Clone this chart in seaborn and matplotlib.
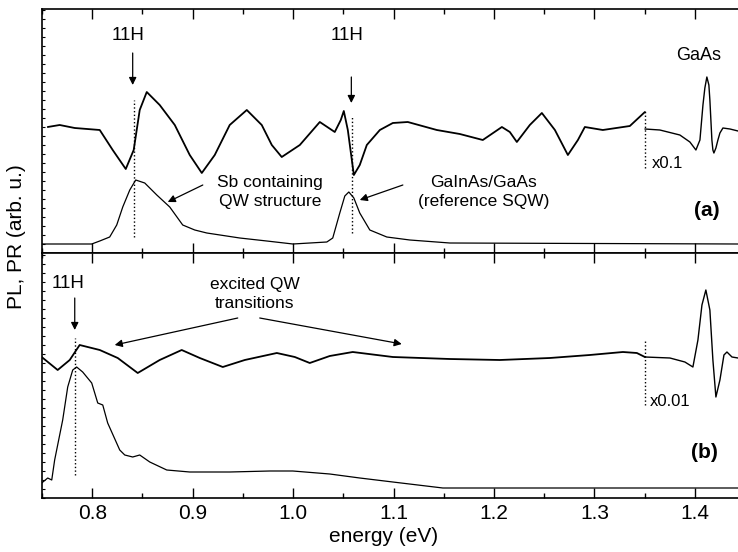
import numpy as np
import pandas as pd
import matplotlib
matplotlib.use("Agg")
import matplotlib.pyplot as plt
from matplotlib.ticker import MultipleLocator, NullFormatter
import seaborn as sns

sns.set_style("ticks")
plt.rcParams['font.family'] = ['Liberation Sans', 'DejaVu Sans']
for k in ['text.color', 'axes.labelcolor', 'xtick.color', 'ytick.color', 'axes.edgecolor']:
    plt.rcParams[k] = 'black'

# ---- panel (a): PR of Sb containing QW sample
pr_a_energy = [0.7557, 0.7676, 0.7826, 0.8075, 0.8204, 0.8334, 0.8413, 0.8473, 0.8543,
               0.8672, 0.8822, 0.8971, 0.9091, 0.9220, 0.9369, 0.9539, 0.9688, 0.9788,
               0.9887, 1.0067, 1.0266, 1.0415, 1.0475, 1.0505, 1.0545, 1.0605, 1.0664,
               1.0734, 1.0864, 1.0993, 1.1142, 1.1431, 1.1660, 1.1889, 1.2079, 1.2158,
               1.2228, 1.2357, 1.2477, 1.2607, 1.2736, 1.2836, 1.2905, 1.3084, 1.3353,
               1.3503]
pr_a_signal = [126, 128, 125, 123, 103, 84, 103, 143, 161,
               148, 128, 98, 80, 98, 128, 143, 128, 108,
               96, 108, 131, 121, 133, 142, 123, 78, 88,
               108, 123, 130, 131, 123, 119, 113, 126, 121,
               111, 128, 140, 123, 98, 113, 126, 123, 127,
               141]

# GaAs band-gap feature, scaled x0.1
gaas_a_energy = [1.3503, 1.3652, 1.3851, 1.3951, 1.4011, 1.4051, 1.4081, 1.4100, 1.4120,
                 1.4140, 1.4150, 1.4170, 1.4180, 1.4190, 1.4210, 1.4230, 1.4250, 1.4280,
                 1.4350, 1.4430]
gaas_a_signal = [124, 123, 118, 111, 103, 113, 148, 165, 176,
                 168, 153, 113, 103, 100, 105, 113, 120, 125,
                 124, 122]

# PL spectrum (a)
pl_a_energy = [0.7497, 0.7995, 0.8075, 0.8174, 0.8244, 0.8304, 0.8374, 0.8433, 0.8523,
               0.8643, 0.8772, 0.8901, 0.9021, 0.9141, 0.9469, 0.9738, 0.9998, 1.0336,
               1.0395, 1.0465, 1.0515, 1.0555, 1.0605, 1.0664, 1.0764, 1.0933, 1.1162,
               1.1560, 1.4430]
pl_a_signal = [9, 9, 12, 16, 28, 46, 63, 73, 70,
               58, 46, 28, 23, 20, 15, 12, 9, 11,
               15, 40, 57, 61, 55, 40, 23, 16, 13,
               10, 9]

# ---- panel (b)
pr_b_energy = [0.7497, 0.7656, 0.7776, 0.7875, 0.8075, 0.8254, 0.8453, 0.8672, 0.8891,
               0.9071, 0.9300, 0.9519, 0.9838, 1.0017, 1.0166, 1.0365, 1.0594, 1.0993,
               1.1560, 1.2058, 1.2556, 1.2954, 1.3284, 1.3423, 1.3503]
pr_b_signal = [141, 128, 138, 153, 148, 140, 125, 138, 148,
               140, 131, 138, 145, 141, 135, 142, 146, 141,
               139, 138, 140, 143, 146, 145, 141]

gaas_b_energy = [1.3503, 1.3752, 1.3901, 1.3981, 1.4031, 1.4071, 1.4110, 1.4150, 1.4180,
                 1.4210, 1.4250, 1.4290, 1.4320, 1.4370, 1.4430]
gaas_b_signal = [141, 140, 136, 131, 158, 193, 208, 188, 138,
                 101, 118, 143, 146, 141, 140]

pl_b_energy = [0.7497, 0.7557, 0.7597, 0.7626, 0.7706, 0.7756, 0.7806, 0.7845, 0.7905,
               0.7995, 0.8055, 0.8105, 0.8154, 0.8274, 0.8324, 0.8403, 0.8473, 0.8573,
               0.8742, 0.8971, 0.9369, 0.9768, 0.9997, 1.0365, 1.0664, 1.0993, 1.1491,
               1.2058, 1.3054, 1.4430]
pl_b_signal = [15, 20, 18, 38, 78, 111, 128, 131, 126,
               115, 95, 93, 75, 48, 43, 41, 43, 36,
               28, 26, 26, 27, 27, 24, 20, 16, 10,
               10, 10, 10]

xticks = [0.8, 0.9, 1.0, 1.1, 1.2, 1.3, 1.4]

fig = plt.figure(figsize=(7.38, 5.52), dpi=100)
ax_a = fig.add_axes([42 / 738, 299 / 552, 696 / 738, 244 / 552])
ax_b = fig.add_axes([42 / 738, 54 / 552, 696 / 738, 245 / 552], sharex=ax_a)

def draw(ax, x, y, lw):
    sns.lineplot(x=x, y=y, ax=ax, color='black', lw=lw, sort=False, estimator=None)

draw(ax_a, pr_a_energy, pr_a_signal, 1.3)
draw(ax_a, gaas_a_energy, gaas_a_signal, 1.0)
draw(ax_a, pl_a_energy, pl_a_signal, 0.9)
draw(ax_b, pr_b_energy, pr_b_signal, 1.3)
draw(ax_b, gaas_b_energy, gaas_b_signal, 1.0)
draw(ax_b, pl_b_energy, pl_b_signal, 0.9)

for ax, ymax in [(ax_a, 244), (ax_b, 245)]:
    ax.set_xlim(0.75, 1.443)
    ax.set_ylim(0, ymax)
    ax.set_xticks(xticks)
    ax.xaxis.set_minor_locator(MultipleLocator(0.05))
    ax.yaxis.set_major_locator(MultipleLocator(9))
    ax.yaxis.set_major_formatter(NullFormatter())
    ax.tick_params(axis='x', which='major', direction='in', length=7, width=1, top=True, bottom=True)
    ax.tick_params(axis='x', which='minor', direction='in', length=3.5, width=1, top=True, bottom=True)
    ax.tick_params(axis='y', which='major', direction='in', length=2.5, width=0.8, left=True)
    ax.spines['right'].set_visible(False)
    for s in ['left', 'top', 'bottom']:
        ax.spines[s].set_linewidth(1.2)
    ax.set_xlabel('')
    ax.set_ylabel('')

ax_a.tick_params(axis='x', labelbottom=False)
ax_b.tick_params(axis='x', labelsize=15, pad=4)

arrow = dict(arrowstyle='-|>', color='black', lw=0.9, mutation_scale=11, shrinkA=0, shrinkB=0)
fs = 12.5

# panel (a) annotations
ax_a.text(0.8354, 218, '11H', ha='center', va='center', fontsize=13.5)
ax_a.annotate('', xy=(0.8403, 168), xytext=(0.8403, 200), arrowprops=arrow)
ax_a.text(1.0535, 218, '11H', ha='center', va='center', fontsize=13.5)
ax_a.annotate('', xy=(1.0580, 150), xytext=(1.0580, 176), arrowprops=arrow)
ax_a.plot([0.8413, 0.8413], [16, 153], ls=':', color='black', lw=1)
ax_a.plot([1.0585, 1.0585], [20, 136], ls=':', color='black', lw=1)
ax_a.plot([1.3503, 1.3503], [85, 143], ls=':', color='black', lw=1)
ax_a.text(1.404, 198, 'GaAs', ha='center', va='center', fontsize=13)
ax_a.text(1.3573, 90, 'x0.1', ha='left', va='center', fontsize=12)
ax_a.text(1.412, 43, '(a)', ha='center', va='center', fontsize=15, fontweight='bold')
ax_a.text(0.9768, 61, 'Sb containing\nQW structure', ha='center', va='center',
          fontsize=fs, linespacing=1.3)
ax_a.annotate('', xy=(0.8752, 51), xytext=(0.9101, 68), arrowprops=arrow)
ax_a.text(1.1898, 61, 'GaInAs/GaAs\n(reference SQW)', ha='center', va='center',
          fontsize=fs, linespacing=1.3)
ax_a.annotate('', xy=(1.0664, 53), xytext=(1.1093, 68), arrowprops=arrow)

# panel (b) annotations
ax_b.text(0.7756, 215, '11H', ha='center', va='center', fontsize=13.5)
ax_b.annotate('', xy=(0.7826, 168), xytext=(0.7826, 200), arrowprops=arrow)
ax_b.plot([0.7826, 0.7826], [23, 160], ls=':', color='black', lw=1)
ax_b.plot([1.3503, 1.3503], [93, 158], ls=':', color='black', lw=1)
ax_b.text(0.9618, 204, 'excited QW\ntransitions', ha='center', va='center',
          fontsize=fs, linespacing=1.3)
ax_b.annotate('', xy=(0.8224, 153), xytext=(0.9449, 180), arrowprops=arrow)
ax_b.annotate('', xy=(1.1082, 154), xytext=(0.9668, 180), arrowprops=arrow)
ax_b.text(1.3553, 97, 'x0.01', ha='left', va='center', fontsize=12)
ax_b.text(1.410, 45, '(b)', ha='center', va='center', fontsize=15, fontweight='bold')

fig.text(17 / 738, (552 - 237) / 552, 'PL, PR (arb. u.)', rotation=90,
         ha='center', va='center', fontsize=15)
fig.text(384 / 738, (552 - 537) / 552, 'energy (eV)', ha='center', va='center', fontsize=15)

fig.savefig('out.png', dpi=100)
